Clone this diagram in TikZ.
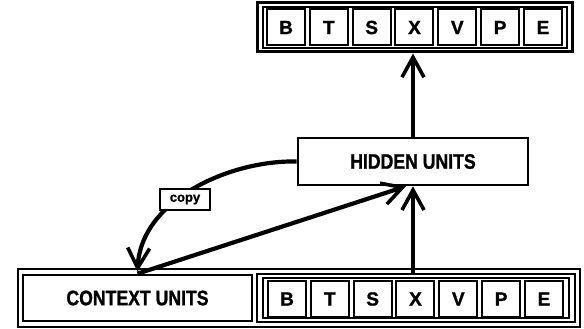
\documentclass[tikz,border=0pt]{standalone}
\usepackage{fontspec}
\setmainfont{Liberation Sans}[BoldFeatures={FakeBold=1.2}]
\usetikzlibrary{arrows.meta,calc}
\begin{document}
\begin{tikzpicture}[x=1pt,y=-1pt,
  cell/.style={draw,line width=2pt,minimum width=38pt,minimum height=36pt,inner sep=0pt,
    font=\fontsize{19}{19}\selectfont\bfseries},
  frame/.style={draw,inner sep=0pt},
  unitbox/.style={draw,line width=2.6pt,inner sep=0pt,
    font=\fontsize{21}{21}\selectfont\bfseries},
  arr/.style={line width=4.2pt,-{Straight Barb[length=20pt,width=22pt,line width=3.6pt]}},
]
\useasboundingbox (0,0) rectangle (584,329);
% top output row
\node[frame,line width=3pt,minimum width=315pt,minimum height=49pt] (tout) at (414.5,27.5) {};
\node[frame,line width=1.4pt,minimum width=304pt,minimum height=41pt] (tin) at (415,27.5) {};
\foreach \l [count=\i] in {B,T,S,X,V,P,E}{
  \node[cell] (t\i) at ({286+(\i-1)*42.83},27.5) {\l};
}
% bottom row
\node[frame,line width=1.4pt,minimum width=562pt,minimum height=58pt] (bframe) at (299,298) {};
\node[unitbox,minimum width=229pt,minimum height=46pt] (context) at (137.5,298)
  {\scalebox{0.84}[1]{CONTEXT UNITS}};
\node[frame,line width=2.6pt,minimum width=318pt,minimum height=48pt] (bout) at (416,298) {};
\node[frame,line width=1.4pt,minimum width=306pt,minimum height=40pt] (bin) at (416,298) {};
\foreach \l [count=\i] in {B,T,S,X,V,P,E}{
  \node[cell] (b\i) at ({287+(\i-1)*42.83},299) {\l};
}
% hidden
\node[unitbox,minimum width=230pt,minimum height=47pt] (hidden) at (413,161.5)
  {\scalebox{0.84}[1]{HIDDEN UNITS}};
% arrows
\draw[arr] (hidden.north) -- (hidden.north |- tout.south);
\draw[arr] (bout.north -| hidden.south) -- (hidden.south);
\draw[arr] (context.north) -- ($(hidden.south)+(-7,0)$);
\draw[arr] (hidden.west) .. controls (230,160) and (141,200) .. ($(context.north)+(0,-2)$);
\node[draw,fill=white,line width=1.8pt,minimum width=50pt,minimum height=21pt,inner sep=0pt,
  font=\fontsize{13}{13}\selectfont\bfseries] (copy) at (185,199.5) {\raisebox{-1pt}{copy}};
\end{tikzpicture}
\end{document}
